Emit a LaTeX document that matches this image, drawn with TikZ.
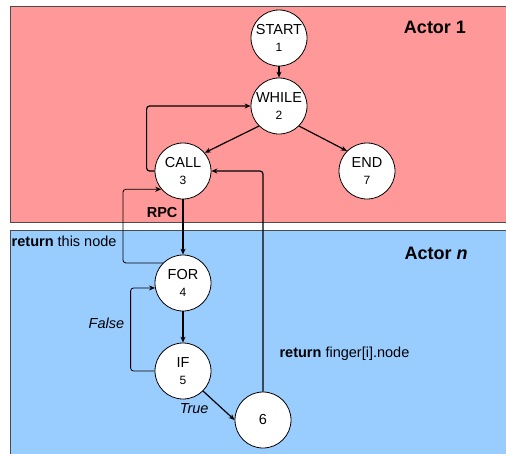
\documentclass[tikz,border=0pt]{standalone}
\usepackage{fontspec}
\setmainfont{Liberation Sans}
\usetikzlibrary{arrows.meta}

\definecolor{actorone}{HTML}{FF9999}
\definecolor{actorn}{HTML}{99CCFF}
\newcommand{\stmtno}[1]{{\fontsize{12}{12}\selectfont #1}}

\begin{document}
\begin{tikzpicture}[x=1pt, y=-1pt,
    stmt/.style={circle, minimum size=56pt, inner sep=0pt, draw=black, line width=0.8pt, fill=white, align=center, font=\fontsize{14.5}{17}\selectfont},
    flow/.style={-{Stealth[length=6pt,width=5pt]}, line width=1.2pt, rounded corners=3pt},
    back/.style={-{Stealth[length=6pt,width=5pt]}, line width=0.8pt, rounded corners=3pt},
    lbl/.style={font=\fontsize{14.5}{16}\selectfont, inner sep=1pt},
    actor/.style={font=\fontsize{18}{20}\selectfont\bfseries}]
    \clip (0,0) rectangle (506,453);
    \fill[white] (0,0) rectangle (506,453);
    % actors
    \draw[draw=black!70, fill=actorone] (10,6) rectangle (520,222);
    \draw[draw=black!70, fill=actorn] (10,230) rectangle (520,470);
    \node[actor] (a1) at (435,27) {Actor 1};
    \node[actor] (an) at (436,253) {Actor \textit{n}};

    \node[stmt] (1) at (279,38) {START\\\stmtno{1}};
    \node[stmt] (2) at (279,106) {WHILE\\\stmtno{2}};
    \node[stmt] (3) at (183,171) {CALL\\\stmtno{3}};
    \node[stmt] (7) at (367,171) {END\\\stmtno{7}};
    \node[stmt] (4) at (183,283) {FOR\\\stmtno{4}};
    \node[stmt] (5) at (183,371) {IF\\\stmtno{5}};
    \node[stmt] (6) at (263,420) {6};

    \draw[flow] (1) -- (2);
    \draw[flow] (2.225) -- (3.40);
    \draw[flow] (2.315) -- (7.135);
    \draw[flow] (3.west) -- ++(-8,0) |- (2.west);
    \draw[flow] (3) -- node[lbl, pos=.23, left=4pt] {\bfseries RPC} (4);
    \draw[back] (4.135) -- ++(-40,0) |- node[lbl, pos=.15, left=5pt] {\textbf{return} this node} (3.220);
    \draw[flow] (4) -- (5);
    \draw[back] (5.west) -- ++(-24,0) |- node[lbl, pos=.29, left=5pt] {\itshape False} (4.190);
    \draw[flow] (5.315) -- node[lbl, pos=.35, below left=1pt, xshift=-3pt] {\itshape True} (6.west);
    \draw[flow] (6.north) |- node[lbl, pos=.086, right=15pt] {\textbf{return} finger[i].node} (3.east);
\end{tikzpicture}
\end{document}
